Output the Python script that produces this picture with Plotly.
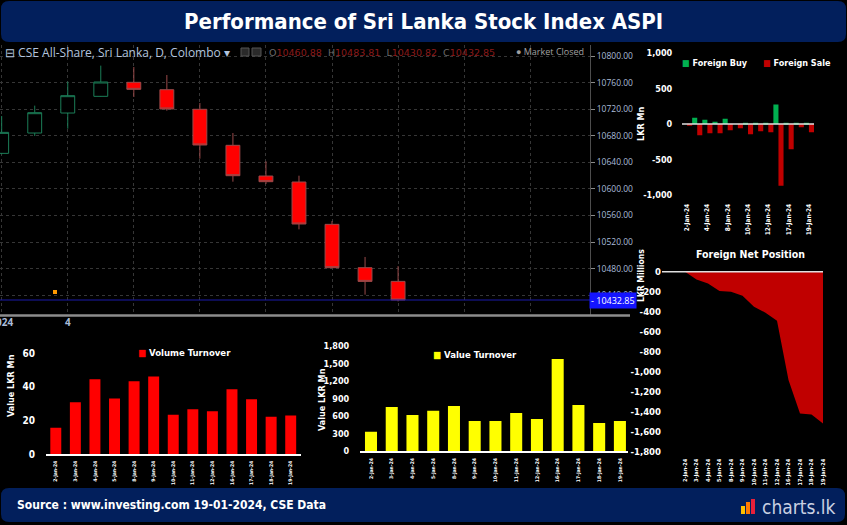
import plotly.graph_objects as go

W, H = 847, 525


def fx(x):
    return x / W


def fy(y):
    return 1 - y / H


COND = "'DejaVu Sans Condensed', 'Liberation Sans Narrow', sans-serif"
TV = "'Open Sans', Roboto, sans-serif"

# ---------------- data ----------------
dates = ["2-Jan-24", "3-Jan-24", "4-Jan-24", "5-Jan-24", "8-Jan-24", "9-Jan-24", "10-Jan-24",
         "11-Jan-24", "12-Jan-24", "16-Jan-24", "17-Jan-24", "18-Jan-24", "19-Jan-24"]

aspi_open = [10653.5, 10684.1, 10714.2, 10739.3, 10760.4, 10749.3, 10719.8,
             10665.6, 10619.4, 10610.4, 10546.7, 10481.5, 10460.88]
aspi_high = [10709.7, 10725.3, 10761.4, 10785.5, 10783.4, 10771.4, 10729.3,
             10684.1, 10641.5, 10619.9, 10551.7, 10497.6, 10483.81]
aspi_low = [10652.0, 10679.6, 10690.7, 10738.5, 10738.3, 10717.7, 10645.5,
            10610.9, 10607.4, 10539.2, 10481.0, 10440.9, 10430.82]
aspi_close = [10685.1, 10714.7, 10740.3, 10760.9, 10749.8, 10720.3, 10666.1,
              10619.9, 10610.9, 10547.2, 10481.5, 10460.88, 10432.85]

foreign_buy = [0, 89, 61, 33, 75, 0, 19, 19, 19, 273, 19, 19, 19]
foreign_sale = [-22, -159, -131, -131, -89, -61, -145, -103, -117, -865, -355, -47, -117]

volume_turnover = [15.7, 30.8, 44.6, 33.0, 43.4, 46.2, 23.4, 26.6, 25.4, 38.6, 32.6, 22.2, 23.0]
value_turnover = [336, 757, 621, 695, 774, 518, 518, 655, 552, 1577, 791, 484, 518]

net_position = [0, -77, -117, -193, -200, -240, -350, -410, -490, -1083, -1417, -1427, -1517]

price_ticks = [10440, 10480, 10520, 10560, 10600, 10640, 10680, 10720, 10760, 10800]
foreign_ticks = [-1000, -500, 0, 500, 1000]
volume_ticks = [0, 20, 40, 60]
value_ticks = [0, 300, 600, 900, 1200, 1500, 1800]
net_ticks = [0, -200, -400, -600, -800, -1000, -1200, -1400, -1600, -1800]

idx = list(range(len(dates)))

# ---------------- traces ----------------
fig = go.Figure()
fig.add_trace(go.Candlestick(
    x=idx, open=aspi_open, high=aspi_high, low=aspi_low, close=aspi_close,
    xaxis="x", yaxis="y", whiskerwidth=0, showlegend=False, hoverinfo="skip",
    increasing=dict(line=dict(color="#1b7d57", width=1), fillcolor="#000000"),
    decreasing=dict(line=dict(color="#9a4a4a", width=1), fillcolor="#ff0000"),
))
fig.add_trace(go.Bar(x=idx, y=foreign_buy, xaxis="x2", yaxis="y2", name="Foreign Buy",
                     marker=dict(color="#00b050", line=dict(width=0)), width=0.5, offset=-0.5,
                     showlegend=False))
fig.add_trace(go.Bar(x=idx, y=foreign_sale, xaxis="x2", yaxis="y2", name="Foreign Sale",
                     marker=dict(color="#c00000", line=dict(width=0)), width=0.5, offset=0,
                     showlegend=False))
fig.add_trace(go.Bar(x=idx, y=volume_turnover, xaxis="x3", yaxis="y3", name="Volume Turnover",
                     marker=dict(color="#ff0000", line=dict(width=0)), width=0.56, showlegend=False))
fig.add_trace(go.Bar(x=idx, y=value_turnover, xaxis="x4", yaxis="y4", name="Value Turnover",
                     marker=dict(color="#ffff00", line=dict(width=0)), width=0.58, showlegend=False))
fig.add_trace(go.Scatter(x=idx, y=net_position, xaxis="x5", yaxis="y5", mode="lines",
                         line=dict(width=0, color="#c00000"), fill="tozeroy", fillcolor="#c00000",
                         showlegend=False, name="Foreign Net Position"))


def rrect(x0, y0, x1, y1, r):
    pts = [
        ("M", [(x0 + r, y0)]), ("L", [(x1 - r, y0)]), ("Q", [(x1, y0), (x1, y0 + r)]),
        ("L", [(x1, y1 - r)]), ("Q", [(x1, y1), (x1 - r, y1)]), ("L", [(x0 + r, y1)]),
        ("Q", [(x0, y1), (x0, y1 - r)]), ("L", [(x0, y0 + r)]), ("Q", [(x0, y0), (x0 + r, y0)]),
    ]
    s = ""
    for cmd, ps in pts:
        s += cmd + " ".join(f"{fx(px):.5f},{fy(py):.5f}" for px, py in ps) + " "
    return s + "Z"


NAVY = "#021f5c"


def white_cond(size, bold=True):
    d = dict(family=COND, size=size, color="white")
    if bold:
        d["weight"] = "bold"
    return d


shapes = [
    dict(type="path", xref="paper", yref="paper", path=rrect(1, 1, 846, 42, 8),
         fillcolor=NAVY, line=dict(width=0), layer="below"),
    dict(type="path", xref="paper", yref="paper", path=rrect(1, 488, 845, 522, 8),
         fillcolor=NAVY, line=dict(width=0), layer="below"),
    # candle chart bottom bar
    dict(type="line", xref="paper", yref="paper", x0=0, x1=fx(630), y0=fy(315.5), y1=fy(315.5),
         line=dict(color="#8c8c8c", width=2.5)),
    # last close line
    dict(type="line", xref="paper", yref="y", x0=0, x1=fx(590), y0=aspi_close[-1], y1=aspi_close[-1],
         line=dict(color="#1a1aa8", width=1)),
    # event marker
    dict(type="rect", xref="paper", yref="paper", x0=fx(53), x1=fx(57), y0=fy(294), y1=fy(290),
         fillcolor="#ff9900", line=dict(width=0)),
    # toolbar icons
    dict(type="rect", xref="paper", yref="paper", x0=fx(241), x1=fx(249), y0=fy(56), y1=fy(48),
         fillcolor="#2a2a2a", line=dict(color="#555", width=1)),
    dict(type="rect", xref="paper", yref="paper", x0=fx(252), x1=fx(261), y0=fy(56), y1=fy(48),
         fillcolor="#2a2a2a", line=dict(color="#555", width=1)),
    # zero lines
    dict(type="line", xref="x2 domain", yref="y2", x0=0, x1=1, y0=0, y1=0,
         line=dict(color="#e0e0e0", width=1.5)),
    dict(type="line", xref="x5 domain", yref="y5", x0=0, x1=1, y0=0, y1=0,
         line=dict(color="#e0e0e0", width=1.5)),
    # logo bars
    dict(type="rect", xref="paper", yref="paper", x0=fx(741), x1=fx(745), y0=fy(514), y1=fy(506),
         fillcolor="#ffc000", line=dict(width=0)),
    dict(type="rect", xref="paper", yref="paper", x0=fx(746), x1=fx(750), y0=fy(514), y1=fy(502),
         fillcolor="#ff7a00", line=dict(width=0)),
    dict(type="rect", xref="paper", yref="paper", x0=fx(751), x1=fx(755), y0=fy(514), y1=fy(499),
         fillcolor="#e8203a", line=dict(width=0)),
]

ohlc = (
    "<span style='color:#6a6a6a'>O</span><span style='color:#8b1a1a'>%.2f</span>\u00a0\u00a0"
    "<span style='color:#6a6a6a'>H</span><span style='color:#8b1a1a'>%.2f</span>\u00a0\u00a0"
    "<span style='color:#6a6a6a'>L</span><span style='color:#8b1a1a'>%.2f</span>\u00a0\u00a0"
    "<span style='color:#6a6a6a'>C</span><span style='color:#8b1a1a'>%.2f</span>"
) % (aspi_open[-1], aspi_high[-1], aspi_low[-1], aspi_close[-1])

annotations = [
    dict(text="Performance of Sri Lanka Stock Index ASPI", x=fx(423), y=fy(21),
         font=white_cond(22)),
    dict(text="Source : www.investing.com 19-01-2024, CSE Data", x=fx(15), y=fy(505),
         xanchor="left", font=white_cond(12)),
    dict(text="charts.lk", x=fx(760), y=fy(507), xanchor="left",
         font=dict(family=COND, size=19, color="#c9d0e2")),
    dict(text="\u229f CSE All-Share, Sri Lanka, D, Colombo \u25be", x=fx(3), y=fy(52), xanchor="left",
         font=dict(family=TV, size=12, color="#b3c4de")),
    dict(text=ohlc, x=fx(267), y=fy(52), xanchor="left",
         font=dict(family="'DejaVu Sans', sans-serif", size=9.5)),
    dict(text="\u25cf Market Closed", x=fx(586), y=fy(51), xanchor="right",
         font=dict(family=TV, size=9, color="#a0a0a0")),
    dict(text="- %.2f" % aspi_close[-1], xref="paper", yref="y", x=fx(589), y=aspi_close[-1],
         xanchor="left", bgcolor="#1414ff", borderpad=1,
         font=dict(family=TV, size=9, color="white")),
    # foreign buy/sale
    dict(text="<span style='color:#00b050'>\u25a0</span> Foreign Buy", x=fx(680), y=fy(63),
         xanchor="left", font=white_cond(9)),
    dict(text="<span style='color:#c00000'>\u25a0</span> Foreign Sale", x=fx(761), y=fy(63),
         xanchor="left", font=white_cond(9)),
    dict(text="LKR Mn", x=fx(641), y=fy(124), textangle=-90, font=white_cond(9)),
    # volume
    dict(text="<span style='color:#ff0000'>\u25a0</span> Volume Turnover", x=fx(136), y=fy(352),
         xanchor="left", font=white_cond(9.5)),
    dict(text="Value LKR Mn", x=fx(11), y=fy(386), textangle=-90, font=white_cond(9)),
    # value
    dict(text="<span style='color:#ffff00'>\u25a0</span> Value Turnover", x=fx(431), y=fy(354),
         xanchor="left", font=white_cond(9.5)),
    dict(text="Value LKR Mn", x=fx(322), y=fy(400), textangle=-90, font=white_cond(9)),
    # net
    dict(text="Foreign Net Position", x=fx(750), y=fy(254), font=white_cond(10.5)),
    dict(text="LKR Millions", x=fx(641), y=fy(276), textangle=-90, font=white_cond(8.5)),
]
for a in annotations:
    a.setdefault("xref", "paper")
    a.setdefault("yref", "paper")
    a.setdefault("xanchor", "center")
    a.setdefault("yanchor", "middle")
    a["showarrow"] = False


def tfont(size):
    return dict(family=COND, size=size, color="white", weight="bold")


fig.update_layout(
    width=W, height=H, margin=dict(l=0, r=0, t=0, b=0, autoexpand=False),
    paper_bgcolor="black", plot_bgcolor="black",
    barmode="overlay", boxgap=0.4, showlegend=False,
    shapes=shapes, annotations=annotations,
    xaxis=dict(domain=[0, fx(590)], range=[-0.051, 17.81], anchor="y",
               tickvals=list(range(0, 17, 2)), ticktext=["2024", "4"] + [""] * 7,
               showgrid=True, gridcolor="#363636", griddash="dot", ticks="", zeroline=False,
               ticklabeloverflow="allow", automargin=False,
               tickfont=dict(family=TV, size=10, color="#a9bcd9", weight="bold"),
               rangeslider=dict(visible=False), fixedrange=True),
    yaxis=dict(domain=[fy(315), fy(45)], range=[10410.3, 10816.55], anchor="x", side="right",
               tickvals=price_ticks, ticktext=["%.2f" % v for v in price_ticks],
               tickfont=dict(family=TV, size=8.5, color="#a9bcd9"),
               ticks="outside", ticklen=4, tickcolor="#8a8a8a", automargin=False,
               showgrid=True, gridcolor="#363636", griddash="dot",
               showline=True, linecolor="#4d4d4d", zeroline=False),
    xaxis2=dict(domain=[fx(682), fx(814)], range=[-0.5, 12.5], anchor="y2",
                tickvals=idx[::2], ticktext=dates[::2], tickangle=-90,
                tickfont=tfont(6.5), showgrid=False, zeroline=False,
                ticks="outside", ticklen=5, tickcolor="rgba(0,0,0,0)"),
    yaxis2=dict(domain=[fy(195.3), fy(52.7)], range=[-1000, 1000], anchor="x2",
                tickvals=foreign_ticks, ticktext=[f"{v:,}" for v in foreign_ticks],
                tickfont=tfont(9), showgrid=False, zeroline=False,
                ticks="outside", ticklen=7, tickcolor="rgba(0,0,0,0)"),
    xaxis3=dict(domain=[fx(46), fx(300.5)], range=[-0.5, 12.5], anchor="y3",
                tickvals=idx, ticktext=dates, tickangle=-90, tickfont=tfont(5),
                showgrid=False, zeroline=False, showline=True, linecolor="white", linewidth=1.5,
                ticks="outside", ticklen=3, tickcolor="rgba(0,0,0,0)"),
    yaxis3=dict(domain=[fy(454), fy(353.3)], range=[0, 60], anchor="x3",
                tickvals=volume_ticks, ticktext=[f"{v:,}" for v in volume_ticks],
                tickfont=tfont(10), showgrid=False, zeroline=False,
                ticks="outside", ticklen=8, tickcolor="rgba(0,0,0,0)"),
    xaxis4=dict(domain=[fx(360), fx(628)], range=[-0.53, 12.39], anchor="y4",
                tickvals=idx, ticktext=dates, tickangle=-90, tickfont=tfont(5),
                showgrid=False, zeroline=False, showline=True, linecolor="white", linewidth=1.5,
                ticks="outside", ticklen=3, tickcolor="rgba(0,0,0,0)"),
    yaxis4=dict(domain=[fy(451.3), fy(346)], range=[0, 1800], anchor="x4",
                tickvals=value_ticks, ticktext=[f"{v:,}" for v in value_ticks],
                tickfont=tfont(9), showgrid=False, zeroline=False,
                ticks="outside", ticklen=8, tickcolor="rgba(0,0,0,0)"),
    xaxis5=dict(domain=[fx(662), fx(823)], range=[-2, 12], anchor="y5",
                tickvals=idx, ticktext=dates, tickangle=-90, tickfont=tfont(5.5),
                showgrid=False, zeroline=False, ticks="outside", ticklen=4,
                tickcolor="rgba(0,0,0,0)"),
    yaxis5=dict(domain=[fy(451.7), fy(270.7)], range=[-1800, 10], anchor="x5",
                tickvals=net_ticks, ticktext=[f"{v:,}" for v in net_ticks],
                tickfont=tfont(9.5), showgrid=False, zeroline=False, ticks=""),
)

fig.write_html("out.html")
